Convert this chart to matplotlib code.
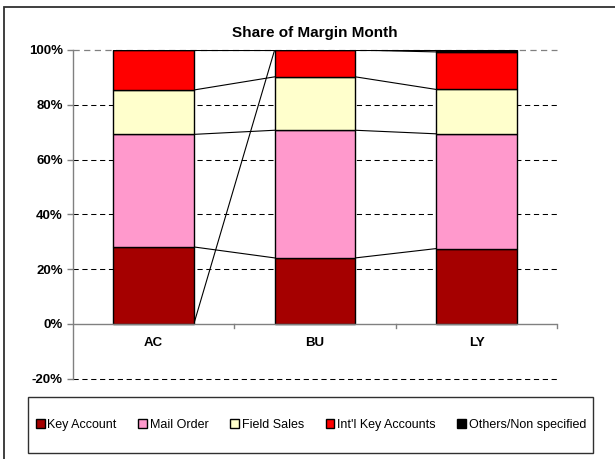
import numpy as np
import matplotlib
matplotlib.use('Agg')
import matplotlib.pyplot as plt
from matplotlib.patches import Rectangle

plt.rcParams['font.family'] = ['Liberation Sans', 'DejaVu Sans']

# data, percent share per category
categories = ['AC', 'BU', 'LY']
series = ['Key Account', 'Mail Order', 'Field Sales', "Int'l Key Accounts", 'Others/Non specified']
key_account = [28.1, 24.1, 27.5]
mail_order = [41.1, 46.6, 41.9]
field_sales = [16.2, 19.5, 16.2]
intl_key = [14.6, 9.8, 13.7]
others = [np.nan, 0.0, 0.7]   # AC blank -> series line drops to 0
yticks = [-20, 0, 20, 40, 60, 80, 100]
colors = ['#A50000', '#FF99CC', '#FFFFCC', '#FF0000', '#000000']

fig = plt.figure(figsize=(6.15, 4.59), dpi=100)
ax = fig.add_axes([72.7 / 615, 1 - 378.7 / 459, 484.6 / 615, 328.7 / 459])

x = np.arange(len(categories))
w = 0.5
bottom = np.zeros(len(categories))
tops = []
for name, vals, c in zip(series, [key_account, mail_order, field_sales, intl_key, others], colors):
    raw = np.array(vals, dtype=float)
    v = np.nan_to_num(raw)
    ax.bar(x, v, w, bottom=bottom, color=c, edgecolor='black', linewidth=1.0, label=name, zorder=3)
    t = np.where(np.isnan(raw), 0.0, bottom + v)
    tops.append(t)
    bottom = bottom + v

# series lines
for t in tops:
    for i in range(len(categories) - 1):
        ax.plot([x[i] + w / 2, x[i + 1] - w / 2], [t[i], t[i + 1]], color='black', lw=0.8, zorder=2)

ax.set_xlim(-0.5, 2.5)
ax.set_ylim(-20, 100)
ax.set_yticks(yticks)
ax.set_yticklabels(['%d%%' % v for v in yticks], fontsize=9.5, fontweight='bold')
ax.tick_params(axis='y', length=4, color='#808080', width=1, pad=3)
ax.set_xticks([])

for yv in yticks:
    if yv == 0:
        continue
    ax.axhline(yv, color='#808080' if yv == 100 else 'black', lw=0.9 if yv == 100 else 0.75,
               dashes=(5, 3.5), zorder=1, clip_on=False)
ax.axhline(0, color='#808080', lw=1.0, zorder=4)
for b in [0.5, 1.5, 2.5]:
    ax.plot([b, b], [0, -1.4], color='#808080', lw=1.0, clip_on=False)
for i, c in enumerate(categories):
    ax.text(x[i], -7, c, ha='center', va='center', fontsize=9.5, fontweight='bold')

for s in ['top', 'right', 'bottom']:
    ax.spines[s].set_visible(False)
ax.spines['left'].set_color('#808080')
ax.spines['left'].set_linewidth(1.0)

fig.text(315 / 615, 1 - 33 / 459, 'Share of Margin Month', ha='center', va='center',
         fontsize=11, fontweight='bold')

# outer border and legend box
fig.patches.append(Rectangle((4.3 / 615, -0.05), 1.2, 1.05 - 6.7 / 459, transform=fig.transFigure,
                             fill=False, edgecolor='#303030', lw=1.3))
fig.patches.append(Rectangle((28.3 / 615, 1 - 453.3 / 459), 565 / 615, 56 / 459, transform=fig.transFigure,
                             fill=False, edgecolor='#303030', lw=1.0))
h, l = ax.get_legend_handles_labels()
fig.legend(h, l, loc='center', bbox_to_anchor=(311 / 615, 1 - 425 / 459), ncol=5, frameon=False,
           fontsize=9, handlelength=0.7, handleheight=0.7, handletextpad=0.2, columnspacing=1.75)

fig.savefig('out.png', dpi=100)
